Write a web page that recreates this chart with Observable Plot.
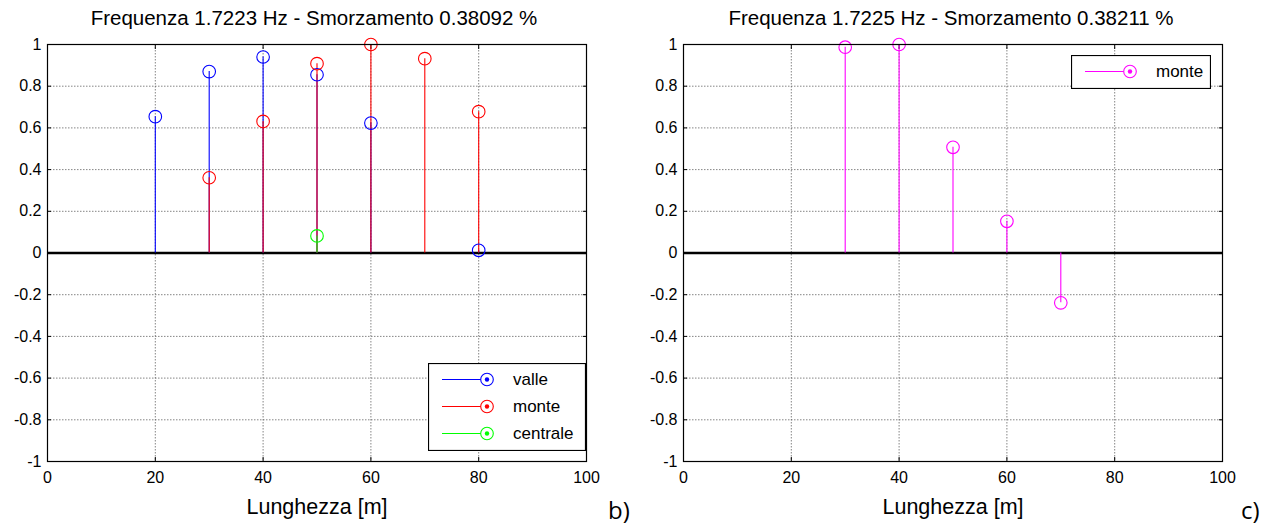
<!DOCTYPE html>
<html>
<head>
<meta charset="utf-8">
<script src="https://cdn.jsdelivr.net/npm/d3@7"></script>
<script src="https://cdn.jsdelivr.net/npm/@observablehq/plot@0.6"></script>
<style>
  html, body { margin: 0; padding: 0; background: #fff; }
  #wrap { position: relative; width: 1276px; height: 525px; background: #fff; font-family: "Liberation Sans", Arial, sans-serif; overflow: hidden; }
  .panel { position: absolute; top: 0; }
  .title { position: absolute; top: 8px; font-size: 20.5px; line-height: 1; white-space: nowrap; transform: translateX(-50%); color: #000; }
  .tag { position: absolute; top: 498px; font-family: "Open Sans", "Noto Sans", sans-serif; font-size: 24px; line-height: 1; color: #000; }
  .legend { position: absolute; }
</style>
</head>
<body>
<div id="wrap">
  <div id="p1" class="panel" style="left:0"></div>
  <div id="p2" class="panel" style="left:636px"></div>
</div>
<script>
// ---- data ----
const xTicks = [0, 20, 40, 60, 80, 100];
const yTicks = [-1, -0.8, -0.6, -0.4, -0.2, 0, 0.2, 0.4, 0.6, 0.8, 1];
const yTickLabels = ["-1", "-0.8", "-0.6", "-0.4", "-0.2", "0", "0.2", "0.4", "0.6", "0.8", "1"];
const xLabel = "Lunghezza [m]";

// panel b)
const titleB = "Frequenza 1.7223 Hz - Smorzamento 0.38092 %";
const valleX = [20, 30, 40, 50, 60, 80];
const valleY = [0.654, 0.870, 0.940, 0.855, 0.623, 0.013];
const monteBX = [30, 40, 50, 60, 70, 80];
const monteBY = [0.361, 0.631, 0.908, 1.0, 0.932, 0.678];
const centraleX = [50];
const centraleY = [0.082];

// panel c)
const titleC = "Frequenza 1.7225 Hz - Smorzamento 0.38211 %";
const monteCX = [30, 40, 50, 60, 70];
const monteCY = [0.987, 1.0, 0.507, 0.152, -0.239];

const seriesB = [
  {name: "valle", color: "#0000ff", xs: valleX, ys: valleY},
  {name: "monte", color: "#ff0000", xs: monteBX, ys: monteBY},
  {name: "centrale", color: "#00ff00", xs: centraleX, ys: centraleY}
];
const seriesC = [
  {name: "monte", color: "#ff00ff", xs: monteCX, ys: monteCY}
];

const fmtY = d => yTickLabels[yTicks.findIndex(t => Math.abs(t - d) < 1e-9)] ?? String(d);

function panel(series) {
  const marks = [
    Plot.gridX(xTicks, {stroke: "#555", strokeOpacity: 0.9, strokeDasharray: "1.5,1.5", strokeWidth: 0.8}),
    Plot.gridY(yTicks, {stroke: "#555", strokeOpacity: 0.9, strokeDasharray: "1.5,1.5", strokeWidth: 0.8}),
    // inward ticks on all four sides
    Plot.axisX(xTicks, {anchor: "bottom", tickSize: -4, tickFormat: () => "", stroke: "#000"}),
    Plot.axisX(xTicks, {anchor: "top", tickSize: -4, tickFormat: () => "", stroke: "#000", label: null}),
    Plot.axisY(yTicks, {anchor: "left", tickSize: -4, tickFormat: () => "", stroke: "#000", label: null}),
    Plot.axisY(yTicks, {anchor: "right", tickSize: -4, tickFormat: () => "", stroke: "#000", label: null}),
    // tick labels
    Plot.axisX(xTicks, {anchor: "bottom", tickSize: 0, tickPadding: 10, tickFormat: d => String(d), fontSize: 16, label: xLabel, labelAnchor: "center", labelArrow: "none", labelOffset: 52}),
    Plot.axisY(yTicks, {anchor: "left", tickSize: 0, tickPadding: 6, tickFormat: fmtY, fontSize: 16, label: null}),
    Plot.ruleY([0], {stroke: "#000", strokeWidth: 2.6})
  ];
  for (const s of series) {
    const rows = s.xs.map((x, i) => ({x, y: s.ys[i]}));
    marks.push(Plot.ruleX(rows, {x: "x", y1: 0, y2: "y", stroke: s.color, strokeWidth: 1.1}));
  }
  for (const s of series) {
    const rows = s.xs.map((x, i) => ({x, y: s.ys[i]}));
    marks.push(Plot.dot(rows, {x: "x", y: "y", r: 6.3, stroke: s.color, fill: "none", strokeWidth: 1.1}));
  }
  marks.push(Plot.frame({stroke: "#000", strokeWidth: 1.2}));
  return Plot.plot({
    width: 636,
    height: 525,
    marginLeft: 47,
    marginRight: 50,
    marginTop: 44,
    marginBottom: 64,
    style: {fontFamily: "'Liberation Sans', Arial, sans-serif", fontSize: "16px", color: "#000", background: "transparent"},
    x: {domain: [0, 100], axis: null, label: null},
    y: {domain: [-1, 1], axis: null, label: null},
    marks
  });
}

const p1 = panel(seriesB);
const p2 = panel(seriesC);
// bigger axis label font
for (const svg of [p1, p2]) {
  svg.querySelectorAll("text").forEach(t => {
    if (t.textContent === xLabel) t.setAttribute("font-size", "21.5");
  });
}
document.getElementById("p1").appendChild(p1);
document.getElementById("p2").appendChild(p2);

const wrap = document.getElementById("wrap");
function addDiv(cls, text, left, extra) {
  const d = document.createElement("div");
  d.className = cls;
  d.textContent = text;
  d.style.left = left + "px";
  if (extra) Object.assign(d.style, extra);
  wrap.appendChild(d);
  return d;
}
addDiv("title", titleB, 314);
addDiv("title", titleC, 951);
addDiv("tag", "b)", 608);
addDiv("tag", "c)", 1241);

const NS = "http://www.w3.org/2000/svg";
function legend(series, left, top, w, h, rowStart, rowStep) {
  const svg = document.createElementNS(NS, "svg");
  svg.setAttribute("width", w);
  svg.setAttribute("height", h);
  svg.setAttribute("class", "legend");
  svg.style.left = left + "px";
  svg.style.top = top + "px";
  svg.style.position = "absolute";
  const rect = document.createElementNS(NS, "rect");
  rect.setAttribute("x", 0.5); rect.setAttribute("y", 0.5);
  rect.setAttribute("width", w - 1); rect.setAttribute("height", h - 1);
  rect.setAttribute("fill", "#fff"); rect.setAttribute("stroke", "#000"); rect.setAttribute("stroke-width", 1.2);
  svg.appendChild(rect);
  series.forEach((s, i) => {
    const y = rowStart + i * rowStep;
    const line = document.createElementNS(NS, "line");
    line.setAttribute("x1", 14); line.setAttribute("x2", 59);
    line.setAttribute("y1", y); line.setAttribute("y2", y);
    line.setAttribute("stroke", s.color); line.setAttribute("stroke-width", 1.2);
    svg.appendChild(line);
    const c = document.createElementNS(NS, "circle");
    c.setAttribute("cx", 59); c.setAttribute("cy", y); c.setAttribute("r", 6.3);
    c.setAttribute("fill", "#fff"); c.setAttribute("stroke", s.color); c.setAttribute("stroke-width", 1.1);
    svg.appendChild(c);
    const c2 = document.createElementNS(NS, "circle");
    c2.setAttribute("cx", 59); c2.setAttribute("cy", y); c2.setAttribute("r", 2.2);
    c2.setAttribute("fill", s.color);
    svg.appendChild(c2);
    const t = document.createElementNS(NS, "text");
    t.setAttribute("x", 85); t.setAttribute("y", y);
    t.setAttribute("dy", "0.35em");
    t.setAttribute("font-size", 17);
    t.setAttribute("font-family", "'Liberation Sans', Arial, sans-serif");
    t.textContent = s.name;
    svg.appendChild(t);
  });
  wrap.appendChild(svg);
}
legend(seriesB, 428, 363, 158, 88, 16.5, 27);
legend(seriesC, 1071, 55, 140, 34, 16.5, 27);
</script>
</body>
</html>
